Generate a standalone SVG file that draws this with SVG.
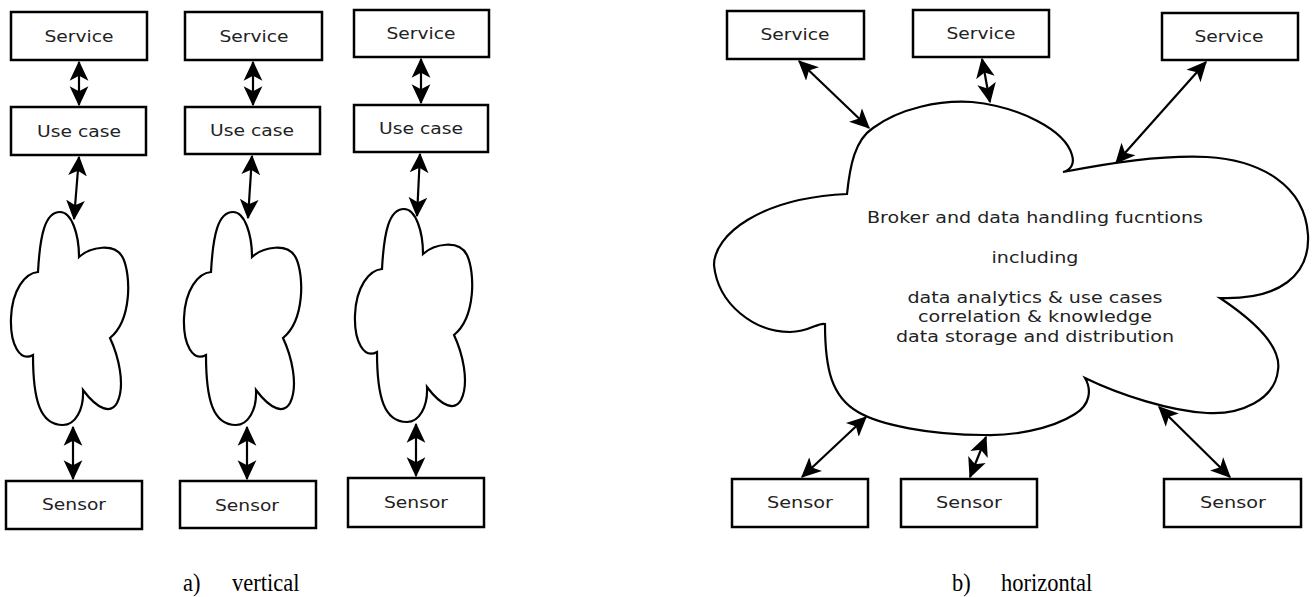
<svg xmlns="http://www.w3.org/2000/svg" width="1315" height="597" viewBox="0 0 1315 597">
<style>
.box{fill:#fff;stroke:#000;stroke-width:2.5}
.cloud{fill:#fff;stroke:#000;stroke-width:2.2;stroke-linejoin:miter}
.lbl{font-family:"DejaVu Sans","Liberation Sans",sans-serif;font-size:16.5px;fill:#222;text-anchor:middle}
.cap{font-family:"Liberation Serif","Times New Roman",serif;font-size:22.5px;fill:#000}
.conn line{stroke:#000;stroke-width:2.2;marker-start:url(#ah);marker-end:url(#ah)}
</style>
<defs>
<marker id="ah" viewBox="0 0 16 16" refX="15" refY="8" markerWidth="20" markerHeight="20" markerUnits="userSpaceOnUse" orient="auto-start-reverse">
<path d="M0,0.5 L16,8 L0,15.5 L4,8 z" fill="#000"/>
</marker>
<path id="vcloud" d="M79 257 C90 247 115 242 123 258 C131 275 132 320 110 338 C118 355 126 385 117 403 C111 414 98 410 83 390 C84 410 75 425 63 425 C40 425 33 400 33 355 C20 362 10 345 11 318 C12 290 25 273 38 272 C40 235 45 212 60 212 C72 212 79 235 79 257 Z"/>
</defs>
<rect width="1315" height="597" fill="#fff"/>

<!-- vertical column 1 -->
<g id="v1-service"><rect class="box" x="11" y="12" width="136" height="48"/><text class="lbl" x="79" y="41.5" textLength="69" lengthAdjust="spacingAndGlyphs">Service</text></g>
<g id="v1-usecase"><rect class="box" x="11" y="107" width="135" height="48"/><text class="lbl" x="79" y="136.5" textLength="84" lengthAdjust="spacingAndGlyphs">Use case</text></g>
<g id="v1-cloud"><use href="#vcloud" class="cloud"/></g>
<g id="v1-sensor"><rect class="box" x="6" y="481" width="136" height="48"/><text class="lbl" x="74" y="510" textLength="64" lengthAdjust="spacingAndGlyphs">Sensor</text></g>

<!-- vertical column 2 -->
<g id="v2-service"><rect class="box" x="185" y="12" width="137" height="48"/><text class="lbl" x="254" y="41.5" textLength="69" lengthAdjust="spacingAndGlyphs">Service</text></g>
<g id="v2-usecase"><rect class="box" x="185" y="107" width="135" height="47"/><text class="lbl" x="252" y="136" textLength="84" lengthAdjust="spacingAndGlyphs">Use case</text></g>
<g id="v2-cloud"><use href="#vcloud" class="cloud" transform="translate(173,0)"/></g>
<g id="v2-sensor"><rect class="box" x="180" y="481" width="136" height="47"/><text class="lbl" x="247" y="510.5" textLength="64" lengthAdjust="spacingAndGlyphs">Sensor</text></g>

<!-- vertical column 3 -->
<g id="v3-service"><rect class="box" x="354" y="10" width="135" height="47"/><text class="lbl" x="421" y="39" textLength="69" lengthAdjust="spacingAndGlyphs">Service</text></g>
<g id="v3-usecase"><rect class="box" x="354" y="105" width="134" height="47"/><text class="lbl" x="421" y="133.5" textLength="84" lengthAdjust="spacingAndGlyphs">Use case</text></g>
<g id="v3-cloud"><use href="#vcloud" class="cloud" transform="translate(344,-3)"/></g>
<g id="v3-sensor"><rect class="box" x="348" y="478" width="136" height="49"/><text class="lbl" x="416" y="508" textLength="64" lengthAdjust="spacingAndGlyphs">Sensor</text></g>

<!-- horizontal -->
<g id="h-service1"><rect class="box" x="727" y="11" width="137" height="48"/><text class="lbl" x="795" y="40" textLength="69" lengthAdjust="spacingAndGlyphs">Service</text></g>
<g id="h-service2"><rect class="box" x="913" y="10" width="136" height="47"/><text class="lbl" x="981" y="39" textLength="69" lengthAdjust="spacingAndGlyphs">Service</text></g>
<g id="h-service3"><rect class="box" x="1162" y="13" width="136" height="47"/><text class="lbl" x="1229" y="41.5" textLength="69" lengthAdjust="spacingAndGlyphs">Service</text></g>

<g id="h-cloud">
<path class="cloud" d="M847 194 C850 165 855 140 873 128 C900 108 940 100 972 102 C1020 107 1065 130 1072 155 C1075 165 1070 170 1063 172 C1110 163 1160 155 1207 157 C1260 160 1305 185 1308 235 C1310 275 1280 300 1220 298 C1250 318 1282 345 1278 370 C1275 400 1240 415 1207 413 C1170 411 1120 395 1085 378 C1092 390 1090 405 1075 414 C1050 430 1010 436 984 435 C930 435 880 425 858 412 C832 397 825 370 825 324 C818 322 810 332 790 332 C755 332 718 305 714 265 C714 235 760 198 847 194 Z"/>
<text class="lbl" x="1035" y="223" textLength="336" lengthAdjust="spacingAndGlyphs">Broker and data handling fucntions</text>
<text class="lbl" x="1035" y="263" textLength="87" lengthAdjust="spacingAndGlyphs">including</text>
<text class="lbl" x="1035" y="302.5" textLength="255" lengthAdjust="spacingAndGlyphs">data analytics &amp; use cases</text>
<text class="lbl" x="1035" y="322" textLength="234" lengthAdjust="spacingAndGlyphs">correlation &amp; knowledge</text>
<text class="lbl" x="1035" y="342" textLength="278" lengthAdjust="spacingAndGlyphs">data storage and distribution</text>
</g>

<g id="h-sensor1"><rect class="box" x="732" y="479" width="136" height="48"/><text class="lbl" x="800" y="508" textLength="66" lengthAdjust="spacingAndGlyphs">Sensor</text></g>
<g id="h-sensor2"><rect class="box" x="901" y="479" width="136" height="48"/><text class="lbl" x="969" y="508" textLength="66" lengthAdjust="spacingAndGlyphs">Sensor</text></g>
<g id="h-sensor3"><rect class="box" x="1164" y="479" width="137" height="48"/><text class="lbl" x="1233" y="508" textLength="66" lengthAdjust="spacingAndGlyphs">Sensor</text></g>

<g id="connectors" class="conn">
<line x1="79" y1="62" x2="79" y2="105"/>
<line x1="79" y1="157" x2="74" y2="219"/>
<line x1="73" y1="427" x2="73" y2="479"/>
<line x1="253" y1="62" x2="253" y2="105"/>
<line x1="252" y1="156" x2="248" y2="218"/>
<line x1="247" y1="427" x2="247" y2="479"/>
<line x1="421" y1="59" x2="421" y2="103"/>
<line x1="420" y1="154" x2="417" y2="216"/>
<line x1="416" y1="424" x2="416" y2="476"/>
<line x1="799" y1="61" x2="869" y2="128"/>
<line x1="982" y1="59" x2="990" y2="102"/>
<line x1="1206" y1="62" x2="1116" y2="163"/>
<line x1="866" y1="417" x2="802" y2="477"/>
<line x1="986" y1="437" x2="970" y2="477"/>
<line x1="1159" y1="407" x2="1230" y2="477"/>
</g>

<g id="captions">
<text class="cap" transform="translate(183,591) scale(1,1.15)">a)</text>
<text class="cap" transform="translate(232,591) scale(1,1.15)">vertical</text>
<text class="cap" transform="translate(952,591) scale(1,1.15)">b)</text>
<text class="cap" transform="translate(1001,591) scale(1,1.15)">horizontal</text>
</g>
</svg>
